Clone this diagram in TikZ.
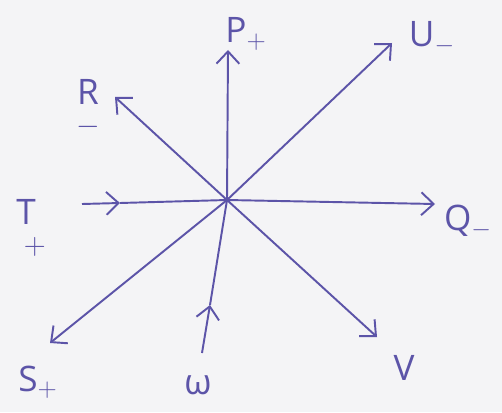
\documentclass[tikz,border=0pt]{standalone}
\usepackage{fontspec}
\setmainfont{Open Sans}
\usetikzlibrary{arrows.meta}
\definecolor{ink}{RGB}{92,84,168}
\definecolor{paper}{RGB}{244,244,246}

\begin{document}
\begin{tikzpicture}[
    x=0.02cm, y=-0.02cm,
    ray/.style={-{Straight Barb[length=7pt, width=13pt]}, line width=1.1pt, draw=ink},
    wire/.style={line width=1.1pt, draw=ink},
    lbl/.style={text=ink, font=\fontsize{20}{22}\selectfont, inner sep=1pt, align=center}
]
    \fill[paper] (0,0) rectangle (502,412);
    \useasboundingbox (0,0) rectangle (502,412);

    % centre and ends of the rays
    \coordinate (O) at (227,200);
    \coordinate (pTip) at (228,50);
    \coordinate (uTip) at (392,43);
    \coordinate (rTip) at (115,97);
    \coordinate (qTip) at (435,204);
    \coordinate (sTip) at (50,343);
    \coordinate (vTip) at (377,337);
    \coordinate (tStart) at (82,204);
    \coordinate (tMark) at (120,203);
    \coordinate (wStart) at (202,353);
    \coordinate (wMark) at (210,305);

    % labels
    \node[lbl] (P) at (246,34) {P$_{+}$};
    \node[lbl] (U) at (432,38) {U$_{-}$};
    \node[lbl] (R) at (88,108) {R\\[-5pt]\fontsize{16}{16}\selectfont$-$};
    \node[lbl] (T) at (26,228) {T\\[-5pt]\hspace*{0.5em}\fontsize{16}{16}\selectfont$+$};
    \node[lbl] (Q) at (468,222) {Q$_{-}$};
    \node[lbl] (S) at (38,382) {S$_{+}$};
    \node[lbl] (W) at (198,385) {ω};
    \node[lbl] (V) at (404,368) {V};

    % rays out of the centre
    \draw[ray] (O) -- (pTip);
    \draw[ray] (O) -- (uTip);
    \draw[ray] (O) -- (rTip);
    \draw[ray] (O) -- (qTip);
    \draw[ray] (O) -- (sTip);
    \draw[ray] (O) -- (vTip);

    % rays into the centre
    \draw[ray] (tStart) -- (tMark);
    \draw[wire] (tMark) -- (O);
    \draw[ray] (wStart) -- (wMark);
    \draw[wire] (wMark) -- (O);
\end{tikzpicture}
\end{document}
